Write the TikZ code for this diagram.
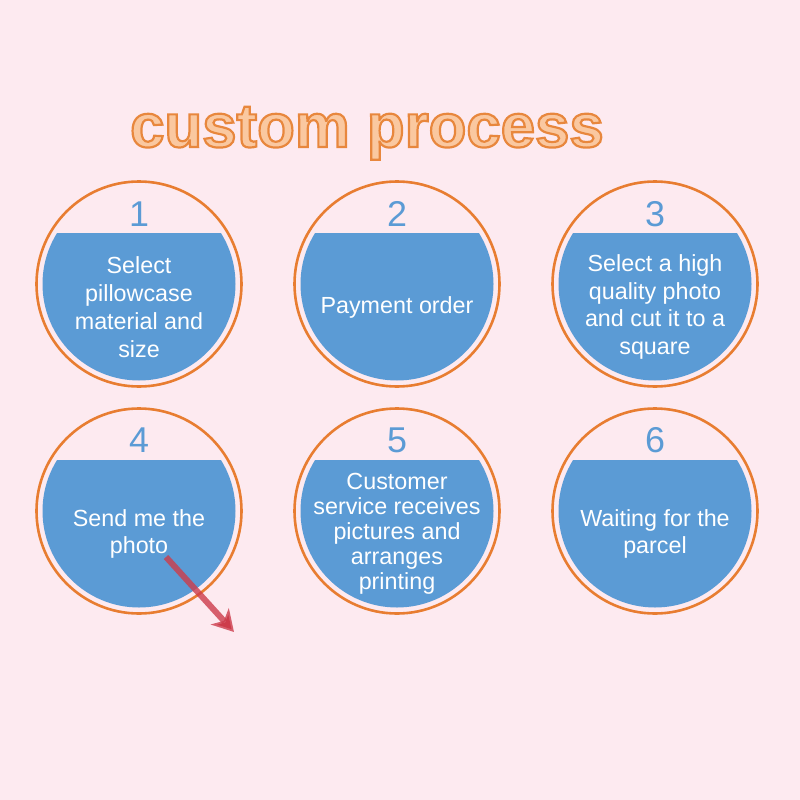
\documentclass[tikz,border=0pt]{standalone}
\usepackage{fontspec}
\setmainfont{Liberation Sans}
\usetikzlibrary{arrows.meta,calc}
\definecolor{bgpink}{RGB}{253,234,240}
\definecolor{ringorange}{RGB}{232,125,49}
\definecolor{segblue}{RGB}{91,155,213}
\definecolor{titlefill}{RGB}{250,200,160}
\definecolor{arrowred}{RGB}{205,60,75}
\tikzset{
  ring/.style={circle, draw=ringorange, line width=2.6bp, minimum size=205bp, inner sep=0pt},
  num/.style={text=segblue, font=\fontsize{36}{36}\selectfont, inner sep=0pt},
  stepbox/.style={text=white, align=center, font=\fontsize{23.4}{28}\selectfont, inner sep=0pt},
  pointer/.style={draw=arrowred, line width=6bp, draw opacity=0.8, -{Stealth[length=21bp,width=24bp,inset=6bp]}}
}
\newcommand{\seg}[1]{%
  \begin{scope}
    \clip ($(#1)+(-100,-51)$) rectangle ($(#1)+(100,100)$);
    \fill[segblue] (#1) circle (96.5);
  \end{scope}}
\newcommand{\outlinedtitle}[1]{{\color{titlefill}\special{pdf:literal direct 2 Tr 2.2 w 0.91 0.53 0.24 RG}#1\special{pdf:literal direct 0 Tr}}}
\begin{document}
\begin{tikzpicture}[x=1bp,y=-1bp]
\fill[bgpink] (0,0) rectangle (800,800);
\useasboundingbox (0,0) rectangle (800,800);

\node[anchor=base, inner sep=0pt] (title) at (367,147) {\fontsize{62}{62}\selectfont\bfseries\outlinedtitle{custom process}};

% row 1
\node[ring] (c1) at (139,284) {};
\node[ring] (c2) at (397,284) {};
\node[ring] (c3) at (655,284) {};
% row 2
\node[ring] (c4) at (139,511) {};
\node[ring] (c5) at (397,511) {};
\node[ring] (c6) at (655,511) {};

\seg{c1}\seg{c2}\seg{c3}\seg{c4}\seg{c5}\seg{c6}

\node[num] (n1) at (139,214) {1};
\node[num] (n2) at (397,214) {2};
\node[num] (n3) at (655,214) {3};
\node[num] (n4) at (139,440) {4};
\node[num] (n5) at (397,440) {5};
\node[num] (n6) at (655,440) {6};

\node[stepbox] (t1) at (139,307) {Select\\pillowcase\\material and\\size};
\node[stepbox] (t2) at (397,307) {Payment order};
\node[stepbox] (t3) at (655,307) {Select a high\\quality photo\\and cut it to a\\square};
\node[stepbox] (t4) at (139,534) {Send me the\\photo};
\node[stepbox, font=\fontsize{23.4}{25}\selectfont] (t5) at (397,534) {Customer\\service receives\\pictures and\\arranges\\printing};
\node[stepbox] (t6) at (655,534) {Waiting for the\\parcel};

\coordinate (a1) at (166,557);
\coordinate (a2) at (234,632);
\draw[pointer] (a1) -- (a2);
\end{tikzpicture}
\end{document}
